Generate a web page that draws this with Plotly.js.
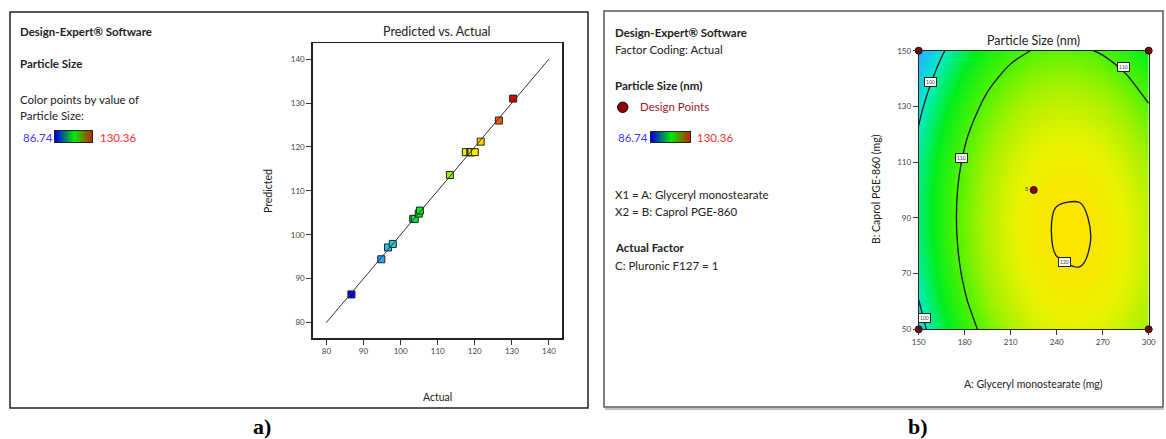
<!DOCTYPE html>
<html>
<head>
<meta charset="utf-8">
<script src="https://cdn.plot.ly/plotly-3.0.1.min.js"></script>
<style>
  html, body { margin: 0; padding: 0; background: #ffffff; }
  #chart { width: 1166px; height: 439px; }
</style>
</head>
<body>
<div id="chart"></div>
<script>
// ---------- Data: Predicted vs. Actual ----------
const actualValues    = [86.74, 94.8, 96.6, 97.9, 103.4, 103.8, 104.9, 105.2, 113.3, 117.6, 118.8, 118.9, 119.1, 120.0, 121.6, 126.5, 130.36];
const predictedValues = [86.4, 94.4, 97.1, 97.9, 103.6, 103.6, 104.8, 105.5, 113.6, 118.8, 118.8, 118.8, 118.8, 118.8, 121.2, 126.0, 131.0];
const identityLine = [80, 140];
const pvaTicks = [80, 90, 100, 110, 120, 130, 140];
const sizeMin = 86.74, sizeMax = 130.36;

// ---------- Data: contour surface (Particle Size, nm) ----------
const glycerylMono = [150, 165, 180, 195, 210, 225, 240, 255, 270, 285, 300];   // A (mg)
const caprolPGE    = [50, 60, 70, 80, 90, 100, 110, 120, 130, 140, 150];        // B (mg)
const particleSize = [
  [98.27, 103.54, 107.99, 111.61, 114.39, 116.34, 117.46, 117.74, 117.20, 115.82, 113.61],
  [99.92, 105.15, 109.55, 113.11, 115.84, 117.74, 118.81, 119.04, 118.45, 117.02, 114.76],
  [101.14, 106.31, 110.66, 114.17, 116.85, 118.70, 119.72, 119.90, 119.25, 117.77, 115.46],
  [101.90, 107.02, 111.32, 114.78, 117.41, 119.21, 120.17, 120.31, 119.61, 118.08, 115.72],
  [102.21, 107.29, 111.53, 114.94, 117.52, 119.27, 120.18, 120.27, 119.52, 117.94, 115.52],
  [102.08, 107.10, 111.30, 114.66, 117.18, 118.88, 119.74, 119.78, 118.98, 117.35, 114.88],
  [101.50, 106.47, 110.61, 113.92, 116.40, 118.04, 118.86, 118.84, 117.99, 116.31, 113.79],
  [100.47, 105.39, 109.48, 112.74, 115.17, 116.76, 117.52, 117.45, 116.55, 114.82, 112.26],
  [98.99, 103.86, 107.90, 111.11, 113.49, 115.03, 115.74, 115.62, 114.67, 112.89, 110.27],
  [97.07, 101.89, 105.88, 109.03, 111.36, 112.85, 113.51, 113.34, 112.34, 110.50, 107.84],
  [94.69, 99.46, 103.40, 106.51, 108.78, 110.22, 110.83, 110.61, 109.56, 107.67, 104.95]
];
const designA = [150, 150, 300, 300, 225];
const designB = [50, 150, 50, 150, 100];
const designLabels = ['', '', '', '', '5'];
const contourLevels = {start: 100, end: 120, size: 10};
const contourLabelText = ['100', '110', '110', '120', '100'];
const contourLabelA = [157.4, 177.6, 283.3, 245, 154.1];
const contourLabelB = [138.9, 111.4, 144, 74, 54];
const aTicks = [150, 180, 210, 240, 270, 300];
const bTicks = [50, 70, 90, 110, 130, 150];

// ---------- Styling ----------
const W = 1166, H = 439;
const PX = x => x / W;
const PY = y => 1 - y / H;
const FONT = 'Lato, "Open Sans", sans-serif';
const deScale = [
  [0.00, 'rgb(0,0,230)'],
  [0.10, 'rgb(0,80,255)'],
  [0.19, 'rgb(40,175,255)'],
  [0.30, 'rgb(0,238,200)'],
  [0.42, 'rgb(0,238,30)'],
  [0.54, 'rgb(85,242,0)'],
  [0.63, 'rgb(170,242,0)'],
  [0.72, 'rgb(235,242,0)'],
  [0.78, 'rgb(255,225,0)'],
  [0.89, 'rgb(255,115,0)'],
  [1.00, 'rgb(225,0,0)']
];
const legendBarScale = [[0, 'rgb(0,0,235)'], [0.5, 'rgb(0,235,0)'], [1, 'rgb(200,30,0)']];

const traces = [
  // left: markers
  {
    type: 'scatter', mode: 'markers', x: actualValues, y: predictedValues,
    xaxis: 'x', yaxis: 'y', hoverinfo: 'skip',
    marker: {symbol: 'square', size: 7, color: actualValues, cmin: sizeMin, cmax: sizeMax,
             colorscale: deScale, line: {color: '#222', width: 1}}
  },
  // left: identity line
  {
    type: 'scatter', mode: 'lines', x: identityLine, y: identityLine,
    xaxis: 'x', yaxis: 'y', hoverinfo: 'skip',
    line: {color: '#333', width: 1}
  },
  // right: contour surface
  {
    type: 'contour', x: glycerylMono, y: caprolPGE, z: particleSize,
    xaxis: 'x2', yaxis: 'y2', hoverinfo: 'skip',
    zauto: false, zmin: sizeMin, zmax: sizeMax, colorscale: deScale, showscale: false,
    autocontour: false,
    contours: {coloring: 'heatmap', start: contourLevels.start, end: contourLevels.end,
               size: contourLevels.size, showlines: true},
    line: {color: '#141414', width: 1.3, smoothing: 1}
  },
  // right: design points
  {
    type: 'scatter', mode: 'markers+text', x: designA, y: designB, text: designLabels,
    textposition: 'middle left', textfont: {size: 6, color: '#333', family: FONT},
    xaxis: 'x2', yaxis: 'y2', hoverinfo: 'skip', cliponaxis: false,
    marker: {size: 7, color: '#8b0000', line: {color: '#300', width: 1}}
  },
  // legend colour bars
  {
    type: 'heatmap', x: [0, 0.5, 1], y: [0, 1], z: [[0, 0.5, 1], [0, 0.5, 1]],
    xaxis: 'x3', yaxis: 'y3', zsmooth: 'best', colorscale: legendBarScale,
    showscale: false, hoverinfo: 'skip', zmin: 0, zmax: 1
  },
  {
    type: 'heatmap', x: [0, 0.5, 1], y: [0, 1], z: [[0, 0.5, 1], [0, 0.5, 1]],
    xaxis: 'x4', yaxis: 'y4', zsmooth: 'best', colorscale: legendBarScale,
    showscale: false, hoverinfo: 'skip', zmin: 0, zmax: 1
  }
];

const tickFont = {family: FONT, size: 8, color: '#444'};
const baseAxis = {
  showline: true, mirror: true, linecolor: '#222', linewidth: 1.4,
  ticks: 'outside', ticklen: 5, tickwidth: 1, tickcolor: '#333',
  showgrid: false, zeroline: false, tickfont: tickFont, fixedrange: true
};
const barAxis = {showline: true, mirror: true, linecolor: '#222', linewidth: 1,
  showticklabels: false, ticks: '', showgrid: false, zeroline: false, range: [0, 1], fixedrange: true};

function txt(x, y, text, o) {
  o = o || {};
  return Object.assign({
    xref: 'paper', yref: 'paper', x: PX(x), y: PY(y), text: text, showarrow: false,
    xanchor: 'left', yanchor: 'middle',
    font: {family: FONT, size: o.size || 11.5, color: o.color || '#222'}
  }, o.extra || {});
}
const bold = s => '<b>' + s + '</b>';

const annotations = [
  // left panel legend
  txt(18, 31, bold('Design-Expert® Software')),
  txt(18, 64, bold('Particle Size')),
  txt(18, 99, 'Color points by value of'),
  txt(18, 116, 'Particle Size:'),
  txt(21, 137, String(sizeMin), {color: '#3a3aff'}),
  txt(98, 137, String(sizeMax), {color: '#ff3030'}),
  // left titles
  txt(437, 31, 'Predicted vs. Actual', {size: 12.5, extra: {xanchor: 'center'}}),
  txt(268, 191, 'Predicted', {size: 10.5, extra: {xanchor: 'center', textangle: -90}}),
  txt(437, 397, 'Actual', {size: 10.5, extra: {xanchor: 'center'}}),
  // right panel legend
  txt(613, 32, bold('Design-Expert® Software')),
  txt(613, 49, 'Factor Coding: Actual'),
  txt(613, 85, bold('Particle Size (nm)')),
  txt(638, 107, 'Design Points', {color: '#a01828'}),
  txt(616, 137, String(sizeMin), {color: '#3a3aff'}),
  txt(695, 137, String(sizeMax), {color: '#ff3030'}),
  txt(613, 194, 'X1 = A: Glyceryl monostearate'),
  txt(613, 211, 'X2 = B: Caprol PGE-860'),
  txt(613, 247, bold('Actual Factor')),
  txt(613, 265, 'C: Pluronic F127 = 1'),
  // right titles
  txt(1033, 40, 'Particle Size (nm)', {size: 12.5, extra: {xanchor: 'center'}}),
  txt(876, 189, 'B: Caprol PGE-860 (mg)', {size: 10.5, extra: {xanchor: 'center', textangle: -90}}),
  txt(1033, 384, 'A: Glyceryl monostearate (mg)', {size: 10.5, extra: {xanchor: 'center'}}),
  // panel labels
  txt(262, 426, '<b>a)</b>', {size: 22, color: '#000', extra: {xanchor: 'center', font: {family: '"Liberation Serif", serif', size: 22, color: '#000'}}}),
  txt(918, 426, '<b>b)</b>', {size: 22, color: '#000', extra: {xanchor: 'center', font: {family: '"Liberation Serif", serif', size: 22, color: '#000'}}})
];

// contour level labels (boxed)
contourLabelText.forEach((t, i) => {
  annotations.push({
    xref: 'x2', yref: 'y2', x: contourLabelA[i], y: contourLabelB[i], text: t, showarrow: false,
    font: {family: FONT, size: 5, color: '#444'}, bgcolor: '#ffffff', bordercolor: '#222',
    borderwidth: 1, borderpad: 1
  });
});

const layout = {
  width: W, height: H,
  margin: {l: 0, r: 0, t: 0, b: 0},
  paper_bgcolor: '#ffffff', plot_bgcolor: '#ffffff',
  showlegend: false,
  font: {family: FONT, color: '#222'},
  xaxis: Object.assign({}, baseAxis, {domain: [PX(312.7), PX(562.3)], range: [76.3, 143.6], anchor: 'y', tickvals: pvaTicks}),
  yaxis: Object.assign({}, baseAxis, {domain: [PY(338.3), PY(43.3)], range: [76.4, 143.6], anchor: 'x', tickvals: pvaTicks}),
  xaxis2: Object.assign({}, baseAxis, {domain: [PX(918.7), PX(1148.7)], range: [150, 300], anchor: 'y2', tickvals: aTicks, linewidth: 1}),
  yaxis2: Object.assign({}, baseAxis, {domain: [PY(329.3), PY(50.7)], range: [50, 150], anchor: 'x2', tickvals: bTicks, linewidth: 1}),
  xaxis3: Object.assign({}, barAxis, {domain: [PX(55), PX(92)], anchor: 'y3'}),
  yaxis3: Object.assign({}, barAxis, {domain: [PY(142), PY(131)], anchor: 'x3'}),
  xaxis4: Object.assign({}, barAxis, {domain: [PX(651), PX(690)], anchor: 'y4'}),
  yaxis4: Object.assign({}, barAxis, {domain: [PY(142), PY(132)], anchor: 'x4'}),
  shapes: [
    {type: 'rect', xref: 'paper', yref: 'paper', x0: PX(10), x1: PX(588), y0: PY(408), y1: PY(12),
     line: {color: '#222', width: 1.5}, fillcolor: 'rgba(0,0,0,0)'},
    {type: 'rect', xref: 'paper', yref: 'paper', x0: PX(604), x1: PX(1163), y0: PY(407), y1: PY(11),
     line: {color: '#555', width: 1.5}, fillcolor: 'rgba(0,0,0,0)'},
    {type: 'line', xref: 'paper', yref: 'paper', x0: PX(605), x1: PX(1164), y0: PY(409), y1: PY(409),
     line: {color: '#aaa', width: 1.5}},
    {type: 'circle', xref: 'paper', yref: 'paper', x0: PX(617.5), x1: PX(628), y0: PY(112.5), y1: PY(102),
     fillcolor: '#8b0000', line: {color: '#200', width: 1}}
  ],
  annotations: annotations
};

Plotly.newPlot('chart', traces, layout, {displayModeBar: false, staticPlot: true});
</script>
</body>
</html>
